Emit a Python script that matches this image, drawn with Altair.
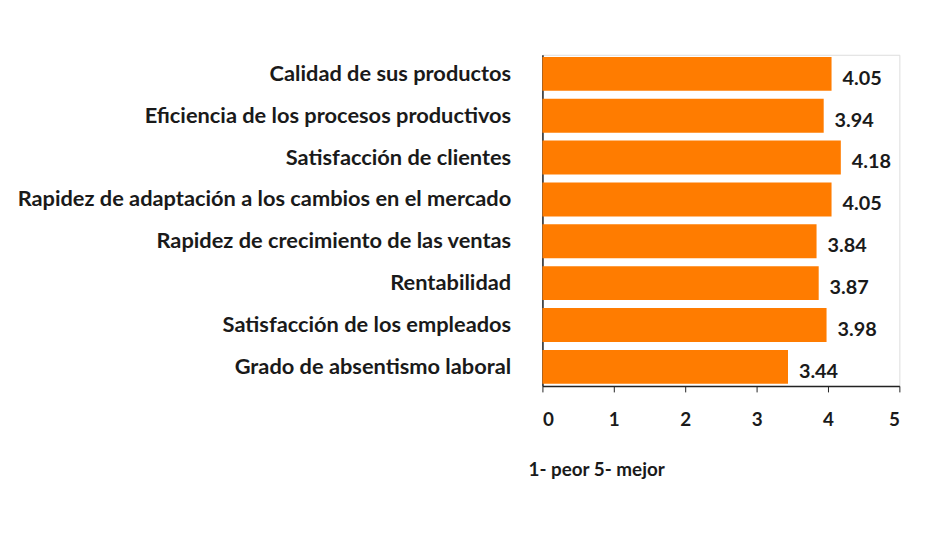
import altair as alt
import pandas as pd

categories = [
    "Calidad de sus productos",
    "Eficiencia de los procesos productivos",
    "Satisfacción de clientes",
    "Rapidez de adaptación a los cambios en el mercado",
    "Rapidez de crecimiento de las ventas",
    "Rentabilidad",
    "Satisfacción de los empleados",
    "Grado de absentismo laboral",
]
values = [4.05, 3.94, 4.18, 4.05, 3.84, 3.87, 3.98, 3.44]
labels = ["4.05", "3.94", "4.18", "4.05", "3.84", "3.87", "3.98", "3.44"]
x_ticks = [0, 1, 2, 3, 4, 5]
note = "1- peor 5- mejor"

df = pd.DataFrame({"cat": categories, "val": values, "lab": labels})

FONT = "Lato"
TXT = "#1a1a1a"

y_enc = alt.Y(
    "cat:N",
    sort=categories,
    scale=alt.Scale(paddingInner=0.19, paddingOuter=0.05),
    axis=alt.Axis(
        title=None,
        labelFont=FONT,
        labelFontSize=22,
        labelFontWeight="bold",
        labelColor=TXT,
        labelPadding=32,
        ticks=False,
        domainColor="#222222",
        domainWidth=1.5,
        labelLimit=700,
    ),
)
x_enc = alt.X(
    "val:Q",
    scale=alt.Scale(domain=[0, 5], nice=False),
    axis=alt.Axis(
        title=None,
        values=x_ticks,
        format="d",
        labelFont=FONT,
        labelFontSize=19,
        labelFontWeight="bold",
        labelColor=TXT,
        labelPadding=19,
        tickSize=6,
        tickColor="#222222",
        domainColor="#222222",
        domainWidth=1.5,
        grid=False,
    ),
)

bars = alt.Chart(df).mark_bar(color="#FF7C00").encode(y=y_enc, x=x_enc)
text = alt.Chart(df).mark_text(
    align="left", dx=11, dy=5, font=FONT, fontSize=20, fontWeight="bold", color=TXT
).encode(y=alt.Y("cat:N", sort=categories), x="val:Q", text="lab:N")

note_df = pd.DataFrame({"t": [note]})
note_mark = alt.Chart(note_df).mark_text(
    align="left", baseline="middle", font=FONT, fontSize=19, fontWeight="bold", color=TXT
).encode(x=alt.value(-14), y=alt.value(419), text="t:N")

chart = (
    alt.layer(bars, text, note_mark)
    .properties(
        width=360,
        height=334,
        autosize=alt.AutoSizeParams(type="none"),
        padding={"left": 539, "top": 45, "right": 43, "bottom": 131},
    )
    .configure_view(stroke=None)
    .configure(background="white")
)

chart.save("out.html", embed_options={"renderer": "svg", "actions": False})
